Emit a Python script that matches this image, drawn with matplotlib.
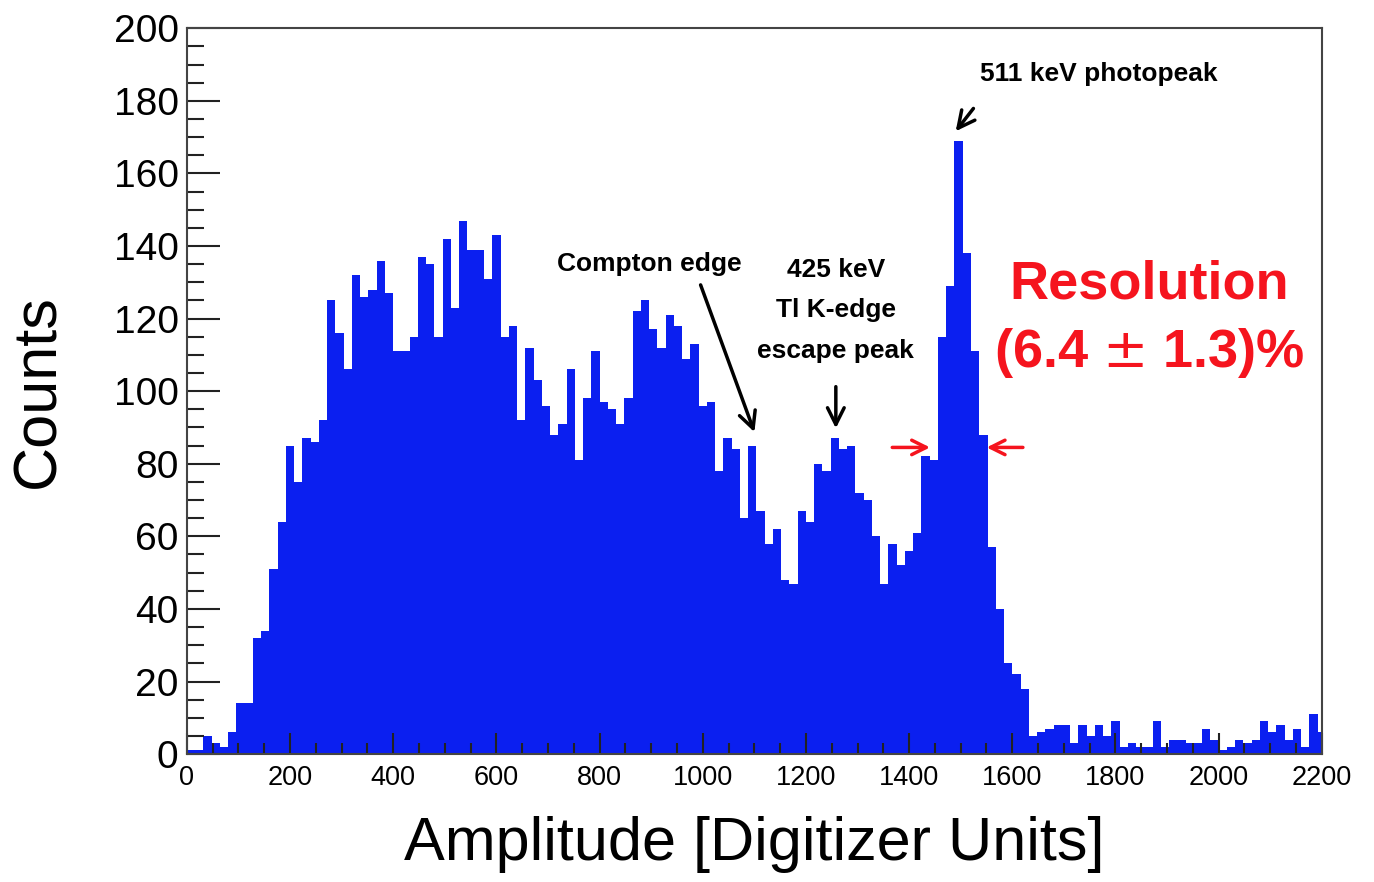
import numpy as np
import matplotlib
matplotlib.use('Agg')
import matplotlib.pyplot as plt

plt.rcParams['font.family'] = ['Liberation Sans', 'DejaVu Sans']

# histogram, 16 digitizer units per bin, starting at 0
BIN_WIDTH = 16
counts = [
    1, 1, 5, 3, 2, 6, 14, 14, 32, 34,
    51, 64, 85, 75, 87, 86, 92, 125, 116, 106,
    132, 126, 128, 136, 127, 111, 111, 115, 137, 135,
    115, 142, 123, 147, 139, 139, 131, 143, 115, 118,
    92, 112, 103, 96, 88, 91, 106, 81, 98, 111,
    97, 95, 91, 98, 122, 125, 117, 112, 121, 118,
    109, 113, 96, 97, 78, 87, 84, 65, 85, 67,
    58, 62, 48, 47, 67, 64, 80, 78, 87, 84,
    85, 72, 70, 60, 47, 58, 52, 56, 61, 82,
    81, 115, 129, 169, 138, 111, 88, 57, 40, 25,
    22, 18, 5, 6, 7, 8, 8, 3, 8, 5,
    8, 5, 9, 2, 3, 2, 2, 9, 2, 4,
    4, 3, 3, 7, 4, 1, 2, 4, 3, 4,
    9, 6, 8, 4, 7, 2, 11, 6,
]
edges = np.arange(len(counts) + 1) * BIN_WIDTH

x_ticks = [0, 200, 400, 600, 800, 1000, 1200, 1400, 1600, 1800, 2000, 2200]
y_ticks = [0, 20, 40, 60, 80, 100, 120, 140, 160, 180, 200]

fig = plt.figure(figsize=(13.74, 8.82), dpi=100)
ax = fig.add_axes([0.136, 0.145, 0.826, 0.823])

ax.stairs(counts, edges, fill=True, color='#0b1ff0', zorder=1)

ax.set_xlim(0, 2200)
ax.set_ylim(0, 200)
ax.set_xticks(x_ticks)
ax.set_yticks(y_ticks)
ax.set_xticks(np.arange(0, 2201, 50), minor=True)
ax.set_yticks(np.arange(0, 201, 5), minor=True)

ax.tick_params(axis='both', which='both', direction='in', top=False, right=False,
               color='#222222', width=1.5)
ax.tick_params(axis='x', which='major', length=15, labelsize=19.5, pad=8)
ax.tick_params(axis='x', which='minor', length=8)
ax.tick_params(axis='y', which='major', length=24, labelsize=28, pad=6)
ax.tick_params(axis='y', which='minor', length=12)
for sp in ax.spines.values():
    sp.set_linewidth(1.5)
    sp.set_color('#444444')
    sp.set_zorder(3)

ax.set_xlabel('Amplitude [Digitizer Units]', fontsize=44)
ax.set_ylabel('Counts', fontsize=44)
ax.xaxis.set_label_coords(0.5, -0.085)
ax.yaxis.set_label_coords(-0.105, 0.5)

# annotations
black_arrow = dict(arrowstyle='->', color='black', lw=2.5, mutation_scale=30)
ax.text(897, 135, 'Compton edge', ha='center', va='center', fontsize=19,
        fontweight='bold')
ax.annotate('', xy=(1102, 88), xytext=(994, 130), arrowprops=black_arrow)

ax.text(1258, 133.5, '425 keV', ha='center', va='center', fontsize=19, fontweight='bold')
ax.text(1258, 122.5, 'Tl K-edge', ha='center', va='center', fontsize=19, fontweight='bold')
ax.text(1258, 111, 'escape peak', ha='center', va='center', fontsize=19, fontweight='bold')
ax.annotate('', xy=(1258, 89), xytext=(1258, 102), arrowprops=black_arrow)

ax.text(1768, 187.5, '511 keV photopeak', ha='center', va='center', fontsize=19,
        fontweight='bold')
ax.annotate('', xy=(1487, 171), xytext=(1528, 178.5), arrowprops=black_arrow)

red = '#f5141e'
red_arrow = dict(arrowstyle='->', color=red, lw=2.5, mutation_scale=26)
ax.annotate('', xy=(1446, 84.5), xytext=(1362, 84.5), arrowprops=red_arrow)
ax.annotate('', xy=(1545, 84.5), xytext=(1626, 84.5), arrowprops=red_arrow)
ax.text(1866, 129.5, 'Resolution', ha='center', va='center', fontsize=39,
        fontweight='bold', color=red)
ax.text(1866, 110.5, r'(6.4 $\pm$ 1.3)%', ha='center', va='center', fontsize=39,
        fontweight='bold', color=red)

fig.savefig('out.png', dpi=100)
